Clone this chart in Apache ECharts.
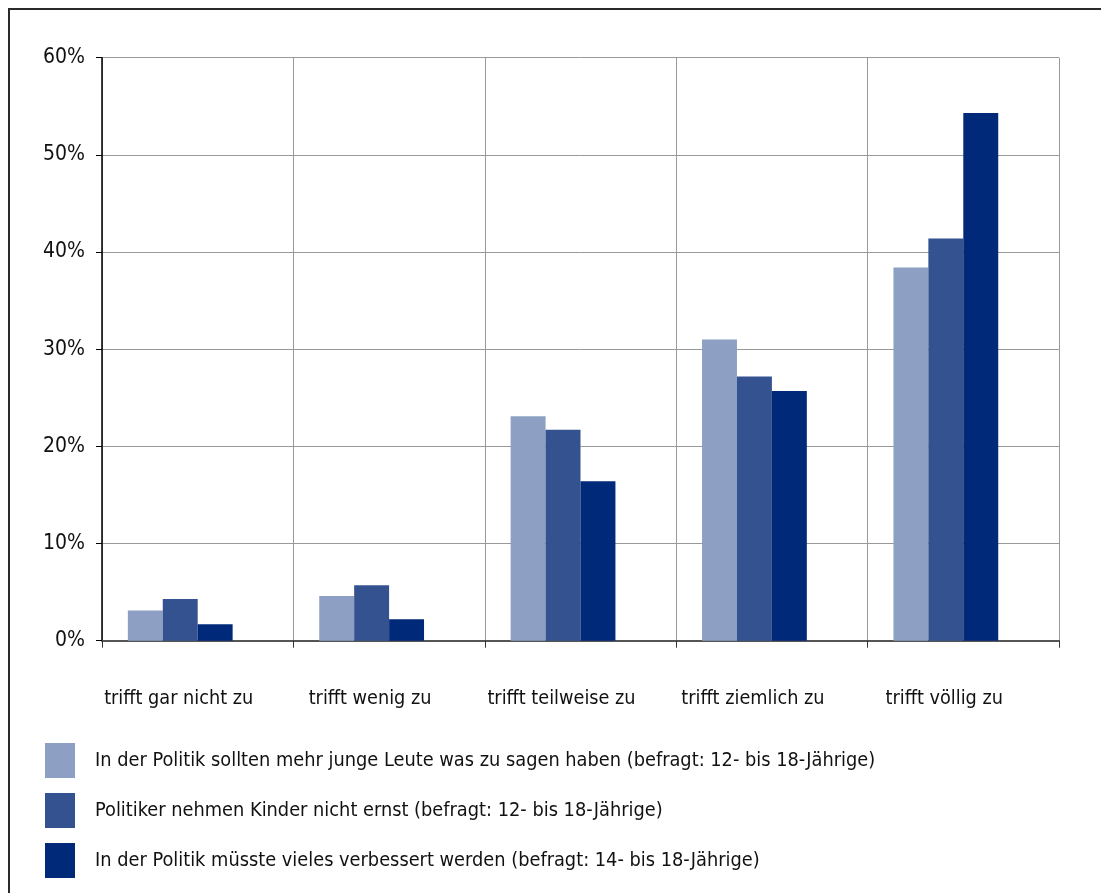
<!DOCTYPE html>
<html>
<head>
<meta charset="utf-8">
<script src="https://cdn.jsdelivr.net/npm/echarts@6/dist/echarts.min.js"></script>
<style>
html,body{margin:0;padding:0;background:#fff;}
#chart{width:1101px;height:893px;}
</style>
</head>
<body>
<div id="chart"></div>
<script>
const categories = ['trifft gar nicht zu', 'trifft wenig zu', 'trifft teilweise zu', 'trifft ziemlich zu', 'trifft völlig zu'];
const seriesNames = [
  'In der Politik sollten mehr junge Leute was zu sagen haben (befragt: 12- bis 18-Jährige)',
  'Politiker nehmen Kinder nicht ernst (befragt: 12- bis 18-Jährige)',
  'In der Politik müsste vieles verbessert werden (befragt: 14- bis 18-Jährige)'
];
const mehrJungeLeute = [3.1, 4.6, 23.1, 31.0, 38.4];
const nichtErnst = [4.3, 5.7, 21.7, 27.2, 41.4];
const verbessert = [1.7, 2.2, 16.4, 25.7, 54.3];
const yTicks = [0, 10, 20, 30, 40, 50, 60];
const colors = ['#8da0c3', '#34528f', '#00297a'];

const FONT = '"DejaVu Sans Condensed", "Liberation Sans Narrow", "Open Sans", sans-serif';
const chart = echarts.init(document.getElementById('chart'), null, {renderer: 'canvas'});
const values = [mehrJungeLeute, nichtErnst, verbessert];
const series = values.map((v, i) => ({
  name: seriesNames[i], type: 'bar', data: v, barGap: '0%', barCategoryGap: '27%',
  itemStyle: {color: colors[i]}, animation: false
}));
series.push({name: 'placeholder', type: 'bar', data: categories.map(() => null), barGap: '0%', barCategoryGap: '27%', animation: false});

chart.setOption({
  animation: false,
  textStyle: {fontFamily: FONT},
  graphic: [{type: 'rect', shape: {x: 9, y: 9, width: 1200, height: 1000}, style: {fill: 'none', stroke: '#2a2a2a', lineWidth: 2}, silent: true}],
  grid: {left: 102, right: 42, top: 57.7, bottom: 252.3},
  legend: {
    data: seriesNames, orient: 'vertical', left: 45, top: 743, padding: 0,
    itemWidth: 30, itemHeight: 35, itemGap: 15, icon: 'rect',
    textStyle: {fontFamily: FONT, fontSize: 19.8, color: '#111', padding: [6, 0, 0, 15]}
  },
  xAxis: {
    type: 'category', data: categories,
    axisLine: {lineStyle: {color: '#555', width: 2}},
    axisTick: {show: true, interval: 0, length: 7, lineStyle: {color: '#333', width: 1}},
    splitLine: {show: true, interval: 0, lineStyle: {color: '#999', width: 1}},
    axisLabel: {interval: 0, fontFamily: FONT, fontSize: 19.7, color: '#111', margin: 48, padding: [0, 38, 0, 0]}
  },
  yAxis: {
    type: 'value', min: yTicks[0], max: yTicks[yTicks.length - 1], interval: 10,
    axisLine: {show: true, lineStyle: {color: '#000', width: 1.5}},
    axisTick: {show: true, length: 6, lineStyle: {color: '#000'}},
    splitLine: {show: true, lineStyle: {color: '#999', width: 1}},
    axisLabel: {fontFamily: FONT, fontSize: 21, color: '#111', margin: 17, formatter: '{value}%'}
  },
  series: series
});
</script>
</body>
</html>
